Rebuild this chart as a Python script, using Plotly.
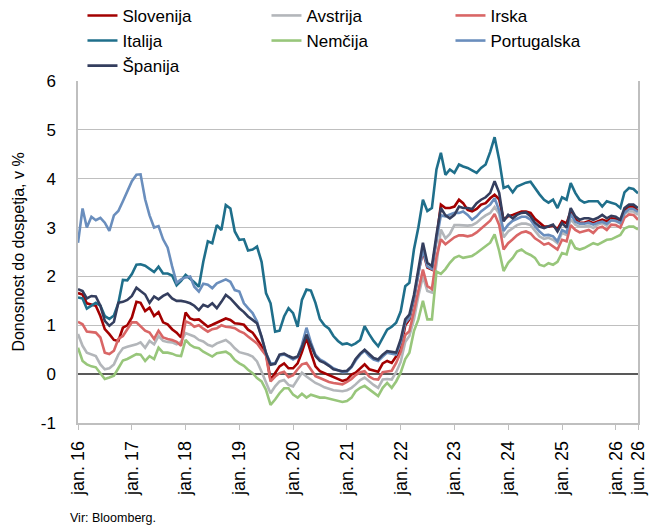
import pandas as pd
import plotly.graph_objects as go

# monthly 10-year government bond yields, jan 2016 - jun 2026 (in %)
months = pd.date_range("2016-01-01", periods=126, freq="MS")

slovenija = [
    1.66, 1.63, 1.45, 1.43, 1.40, 1.19, 0.92, 0.82, 0.70, 0.68, 0.95, 1.00,  # 2016
    1.16, 1.48, 1.46, 1.29, 1.36, 1.19, 1.27, 1.06, 1.02, 0.92, 0.85, 0.75,  # 2017
    1.26, 1.14, 1.11, 1.12, 1.05, 0.97, 1.01, 1.05, 1.10, 1.14, 1.11, 1.04,  # 2018
    1.03, 1.01, 0.91, 0.85, 0.72, 0.57, 0.43, -0.12, 0.02, 0.16, 0.22, 0.12,  # 2019
    0.12, 0.22, 0.45, 0.74, 0.44, 0.16, 0.06, 0.02, -0.03, -0.07, -0.11, -0.14,  # 2020
    -0.11, -0.01, 0.03, 0.12, 0.20, 0.10, 0.08, 0.05, 0.22, 0.27, 0.23, 0.37,  # 2021
    0.50, 1.00, 1.12, 1.53, 2.08, 2.52, 2.18, 2.14, 2.76, 3.47, 3.40, 3.40,  # 2022
    3.43, 3.57, 3.50, 3.36, 3.33, 3.38, 3.47, 3.50, 3.60, 3.67, 3.58, 3.16,  # 2023
    3.23, 3.26, 3.30, 3.33, 3.33, 3.30, 3.18, 3.09, 3.02, 3.02, 3.04, 2.97,  # 2024
    3.13, 3.09, 3.33, 3.17, 3.10, 3.10, 3.13, 3.09, 3.13, 3.16, 3.13, 3.19,  # 2025
    3.18, 3.14, 3.35, 3.43, 3.43, 3.33,  # 2026
]

avstrija = [
    0.82, 0.58, 0.44, 0.40, 0.37, 0.20, 0.10, 0.12, 0.20, 0.40, 0.53, 0.56,
    0.58, 0.61, 0.65, 0.54, 0.68, 0.61, 0.78, 0.68, 0.66, 0.65, 0.61, 0.66,
    0.84, 0.80, 0.77, 0.70, 0.67, 0.60, 0.57, 0.63, 0.67, 0.70, 0.63, 0.53,
    0.45, 0.43, 0.40, 0.36, 0.26, 0.05, -0.18, -0.39, -0.25, -0.15, -0.12, -0.22,
    -0.25, -0.10, 0.03, -0.05, -0.12, -0.18, -0.22, -0.27, -0.30, -0.33, -0.34, -0.35,
    -0.33, -0.28, -0.21, -0.12, -0.07, -0.15, -0.22, -0.28, -0.11, -0.10, -0.11, 0.04,
    0.25, 0.66, 0.78, 1.12, 1.60, 2.00, 1.70, 1.67, 2.25, 2.96, 2.78, 2.87,
    3.05, 3.05, 3.04, 3.04, 3.05, 3.10, 3.18, 3.25, 3.30, 3.42, 3.28, 2.80,
    2.92, 2.98, 3.05, 3.08, 3.08, 3.05, 2.94, 2.82, 2.77, 2.79, 2.75, 2.68,
    2.89, 2.85, 3.17, 3.06, 3.02, 3.02, 3.04, 2.99, 3.06, 3.09, 3.04, 3.15,
    3.13, 3.08, 3.28, 3.33, 3.33, 3.26,
]

irska = [
    1.07, 1.02, 0.87, 0.86, 0.85, 0.75, 0.44, 0.41, 0.48, 0.72, 0.78, 0.92,
    1.06, 1.06, 0.98, 0.89, 0.85, 0.72, 0.89, 0.75, 0.72, 0.70, 0.66, 0.58,
    1.08, 1.04, 0.97, 1.00, 0.93, 0.87, 0.92, 0.94, 1.00, 0.97, 0.96, 0.94,
    0.88, 0.84, 0.77, 0.70, 0.63, 0.50, 0.38, -0.15, -0.05, 0.02, 0.05, -0.06,
    -0.02, 0.10, 0.20, 0.23, 0.10, -0.04, -0.08, -0.12, -0.16, -0.18, -0.20, -0.21,
    -0.16, -0.10, -0.02, 0.04, 0.06, -0.05, -0.10, -0.11, 0.04, 0.05, 0.07, 0.23,
    0.45, 0.80, 0.88, 1.28, 1.74, 2.14, 1.80, 1.74, 2.40, 2.76, 2.66, 2.72,
    2.80, 2.84, 2.84, 2.82, 2.84, 2.90, 2.98, 3.07, 3.14, 3.28, 3.05, 2.55,
    2.68, 2.76, 2.84, 2.90, 2.92, 2.88, 2.78, 2.72, 2.65, 2.68, 2.61, 2.55,
    2.75, 2.72, 3.05, 2.95, 2.90, 2.92, 2.95, 2.89, 2.99, 3.02, 2.95, 3.06,
    3.05, 3.00, 3.20, 3.27, 3.26, 3.16,
]

italija = [
    1.57, 1.55, 1.34, 1.40, 1.46, 1.40, 1.19, 1.13, 1.20, 1.45, 1.93, 1.92,
    2.05, 2.24, 2.25, 2.22, 2.15, 2.09, 2.20, 2.06, 2.06, 2.02, 1.82, 1.91,
    2.03, 1.96, 1.88, 1.79, 2.30, 2.72, 2.68, 3.05, 2.95, 3.46, 3.39, 2.92,
    2.75, 2.76, 2.53, 2.55, 2.61, 2.30, 1.66, 1.45, 0.87, 0.89, 1.18, 1.35,
    1.25, 0.97, 1.52, 1.73, 1.71, 1.46, 1.13, 1.00, 0.93, 0.78, 0.68, 0.61,
    0.63, 0.59, 0.63, 0.70, 0.98, 0.82, 0.68, 0.57, 0.74, 0.91, 0.97, 1.05,
    1.28, 1.80, 1.87, 2.55, 3.00, 3.57, 3.34, 3.40, 4.19, 4.53, 4.08, 4.19,
    4.12, 4.29, 4.25, 4.22, 4.17, 4.12, 4.22, 4.29, 4.55, 4.85, 4.39, 3.81,
    3.85, 3.72, 3.84, 3.88, 3.92, 3.94, 3.80, 3.68, 3.57, 3.51, 3.57, 3.40,
    3.62, 3.57, 3.91, 3.71, 3.57, 3.51, 3.54, 3.54, 3.54, 3.43, 3.54, 3.51,
    3.48, 3.40, 3.72, 3.81, 3.79, 3.70,
]

nemcija = [
    0.54, 0.27, 0.20, 0.16, 0.14, 0.03, -0.10, -0.07, -0.03, 0.12, 0.28, 0.31,
    0.36, 0.41, 0.40, 0.27, 0.37, 0.31, 0.54, 0.44, 0.44, 0.42, 0.38, 0.37,
    0.70, 0.60, 0.55, 0.53, 0.46, 0.40, 0.36, 0.43, 0.45, 0.46, 0.40, 0.29,
    0.22, 0.17, 0.09, 0.02, -0.08, -0.15, -0.32, -0.63, -0.52, -0.39, -0.29, -0.29,
    -0.42, -0.48, -0.40, -0.48, -0.42, -0.45, -0.48, -0.48, -0.50, -0.53, -0.55, -0.57,
    -0.55, -0.48, -0.35, -0.28, -0.24, -0.31, -0.38, -0.45, -0.28, -0.18, -0.28, -0.15,
    0.03, 0.31, 0.44, 0.88, 1.12, 1.50, 1.12, 1.12, 2.10, 2.05, 2.15, 2.28,
    2.38, 2.42, 2.38, 2.40, 2.42, 2.48, 2.55, 2.62, 2.69, 2.86, 2.52, 2.11,
    2.28, 2.38, 2.51, 2.55, 2.48, 2.44, 2.38, 2.24, 2.21, 2.27, 2.24, 2.30,
    2.48, 2.45, 2.75, 2.58, 2.55, 2.58, 2.63, 2.68, 2.65, 2.70, 2.75, 2.76,
    2.80, 2.85, 2.98, 3.02, 3.02, 2.96,
]

portugalska = [
    2.69, 3.39, 3.00, 3.22, 3.15, 3.20, 3.10, 2.93, 3.25, 3.34, 3.54, 3.75,
    3.95, 4.08, 4.09, 3.58, 3.25, 3.00, 3.03, 2.76, 2.59, 2.21, 1.87, 1.94,
    1.98, 2.00, 1.79, 1.69, 1.85, 1.83, 1.76, 1.86, 1.90, 1.94, 1.89, 1.72,
    1.69, 1.45, 1.35, 1.25, 1.08, 0.77, 0.43, 0.22, 0.22, 0.38, 0.40, 0.36,
    0.30, 0.35, 0.60, 0.95, 0.65, 0.40, 0.30, 0.25, 0.18, 0.12, 0.08, 0.04,
    0.05, 0.14, 0.28, 0.40, 0.48, 0.37, 0.30, 0.27, 0.36, 0.44, 0.42, 0.40,
    0.65, 1.05, 1.15, 1.55, 2.05, 2.55, 2.20, 2.15, 2.75, 3.25, 3.23, 3.26,
    3.30, 3.30, 3.33, 3.26, 3.16, 3.23, 3.33, 3.40, 3.47, 3.60, 3.35, 2.93,
    3.06, 3.14, 3.18, 3.22, 3.22, 3.16, 3.03, 2.92, 2.84, 2.85, 2.82, 2.72,
    2.95, 2.90, 3.28, 3.12, 3.08, 3.08, 3.10, 3.06, 3.10, 3.12, 3.08, 3.15,
    3.14, 3.10, 3.30, 3.38, 3.38, 3.32,
]

spanija = [
    1.74, 1.70, 1.55, 1.60, 1.59, 1.40, 1.09, 0.99, 1.07, 1.46, 1.48, 1.52,
    1.60, 1.77, 1.70, 1.63, 1.46, 1.59, 1.53, 1.60, 1.65, 1.55, 1.50, 1.50,
    1.48, 1.45, 1.40, 1.31, 1.42, 1.38, 1.45, 1.35, 1.48, 1.62, 1.55, 1.45,
    1.35, 1.27, 1.18, 1.11, 1.04, 0.77, 0.43, 0.19, 0.21, 0.40, 0.42, 0.37,
    0.33, 0.36, 0.55, 0.81, 0.60, 0.37, 0.27, 0.23, 0.17, 0.10, 0.08, 0.06,
    0.07, 0.16, 0.31, 0.42, 0.50, 0.42, 0.33, 0.30, 0.40, 0.47, 0.46, 0.44,
    0.71, 1.12, 1.22, 1.62, 2.14, 2.69, 2.28, 2.21, 2.85, 3.40, 3.25, 3.19,
    3.26, 3.43, 3.40, 3.40, 3.38, 3.50, 3.57, 3.62, 3.71, 3.95, 3.71, 3.13,
    3.26, 3.19, 3.26, 3.30, 3.31, 3.23, 3.10, 3.02, 2.99, 3.02, 3.06, 2.92,
    3.09, 3.00, 3.40, 3.23, 3.16, 3.19, 3.19, 3.16, 3.20, 3.26, 3.19, 3.24,
    3.22, 3.16, 3.40, 3.47, 3.47, 3.40,
]

series = [
    ("Slovenija", slovenija, "#a30000"),
    ("Avstrija", avstrija, "#b3b6ba"),
    ("Irska", irska, "#d96666"),
    ("Italija", italija, "#1f6f8b"),
    ("Nemčija", nemcija, "#98c67b"),
    ("Portugalska", portugalska, "#6a8ebd"),
    ("Španija", spanija, "#343e5e"),
]

tick_dates = [f"{y}-01-01" for y in range(2016, 2027)] + ["2026-06-01"]
tick_text = [f"jan. {str(y)[2:]}" for y in range(2016, 2027)] + ["jun. 26"]

y_ticks = [-1, 0, 1, 2, 3, 4, 5, 6]

font_fam = "Liberation Sans, Arial, sans-serif"

fig = go.Figure()
for name, vals, col in series:
    fig.add_trace(go.Scatter(
        x=months, y=vals, name=name, mode="lines",
        line=dict(color=col, width=2.6),
    ))

fig.update_layout(
    width=651, height=532,
    margin=dict(l=78, r=13, t=81, b=109, autoexpand=False),
    paper_bgcolor="white", plot_bgcolor="white",
    showlegend=True,
    legend=dict(
        orientation="h", x=0.008, y=1.243, xanchor="left", yanchor="top",
        entrywidth=139, entrywidthmode="pixels",
        font=dict(family=font_fam, size=17, color="black"),
        tracegroupgap=0, bgcolor="rgba(0,0,0,0)",
    ),
    annotations=[dict(
        text="Vir: Bloomberg.", xref="paper", yref="paper",
        x=-0.018, y=-0.278, xanchor="left", yanchor="middle",
        showarrow=False, font=dict(family=font_fam, size=12.5, color="black"),
    )],
)

fig.update_xaxes(
    type="date", range=["2016-01-01", "2026-06-01"],
    tickvals=tick_dates, ticktext=tick_text, tickangle=-90,
    ticks="outside", ticklen=5, tickcolor="#bfbfbf", tickwidth=1.3,
    ticklabelstandoff=4,
    showline=True, linecolor="#bfbfbf", linewidth=1.5,
    showgrid=False, zeroline=False,
    tickfont=dict(family=font_fam, size=18, color="black"),
)

fig.update_yaxes(
    range=[-1, 6], tickvals=y_ticks, ticktext=[str(v) for v in y_ticks],
    showgrid=True, gridcolor="#bfbfbf", gridwidth=1.3,
    zeroline=True, zerolinecolor="#595959", zerolinewidth=2,
    showline=True, mirror=True, linecolor="#bfbfbf", linewidth=1.5,
    ticks="", ticklabelstandoff=17,
    tickfont=dict(family=font_fam, size=17, color="black"),
    title=dict(text="Donosnost do dospetja, v %", standoff=12,
               font=dict(family=font_fam, size=16, color="black")),
)

# the page body has a default 8px margin; drop it so the figure sits at 0,0
fig.write_html(
    "out.html",
    config={"displayModeBar": False},
    post_script="document.body.style.margin = '0px';",
)
